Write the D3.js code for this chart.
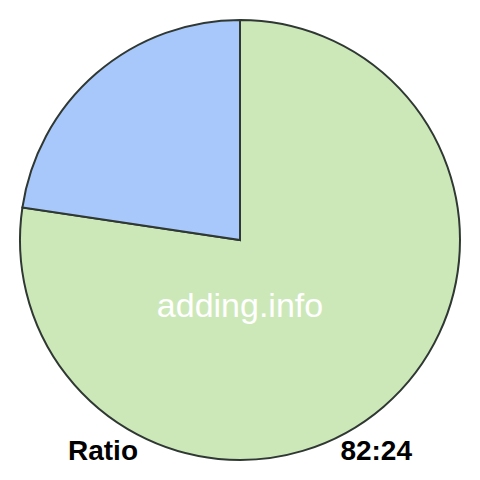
<!DOCTYPE html>
<html><head><meta charset="utf-8">
<script src="https://cdn.jsdelivr.net/npm/d3@7"></script>
<style>html,body{margin:0;padding:0;background:#fff;}</style>
</head><body>
<svg id="chart" width="480" height="480"></svg>
<script>
const labels = ["A", "B"];
const values = [82, 24];
const colors = ["#cde8b8", "#a8c8fc"];
const watermark = "adding.info";
const leftText = "Ratio";
const rightText = "82:24";

const svg = d3.select("#chart");
const cx = 240, cy = 240, r = 220;
const g = svg.append("g").attr("transform", `translate(${cx},${cy})`);
const pie = d3.pie().sort(null).value(d => d);
const arc = d3.arc().innerRadius(0).outerRadius(r);
g.selectAll("path").data(pie(values)).enter().append("path")
  .attr("d", arc)
  .attr("fill", (d, i) => colors[i])
  .attr("stroke", "#2f3833")
  .attr("stroke-width", 2)
  .attr("stroke-linejoin", "miter");

svg.append("text").attr("x", 240).attr("y", 317)
  .attr("text-anchor", "middle").attr("fill", "#fff")
  .attr("font-family", "Liberation Sans, Arial, sans-serif")
  .attr("font-size", 34).text(watermark);

svg.append("text").attr("x", 68).attr("y", 460)
  .attr("font-family", "Liberation Sans, Arial, sans-serif")
  .attr("font-weight", "bold").attr("font-size", 28).attr("fill", "#000")
  .text(leftText);
svg.append("text").attr("x", 412).attr("y", 460).attr("text-anchor", "end")
  .attr("font-family", "Liberation Sans, Arial, sans-serif")
  .attr("font-weight", "bold").attr("font-size", 28).attr("fill", "#000")
  .text(rightText);
</script>
</body></html>
